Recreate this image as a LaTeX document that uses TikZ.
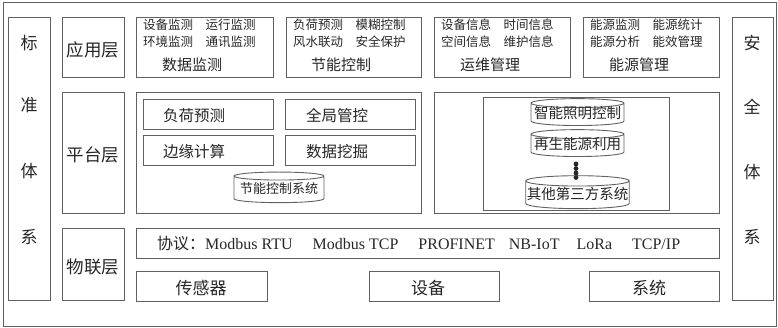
\documentclass[tikz,border=0pt]{standalone}
\usepackage{fontspec}
\setmainfont{Noto Sans CJK SC}
\newfontfamily\latfont{Liberation Serif}
\usetikzlibrary{shapes.geometric}

\newcommand\szcol{\fontsize{17}{20}\selectfont}
\newcommand\szlay{\fontsize{17.5}{20}\selectfont}
\newcommand\szsub{\fontsize{12.5}{14}\selectfont}
\newcommand\sztit{\fontsize{15}{17}\selectfont}
\newcommand\szplt{\fontsize{15.5}{17}\selectfont}

\tikzset{
  line/.style={draw=black!62, line width=0.9pt},
  blk/.style={line, anchor=north west, inner sep=0pt},
  lbl/.style={inner sep=0pt, text=black!85},
  db/.style={line, cylinder, shape border rotate=90, aspect=0.1,
    inner xsep=1pt, inner ysep=0.5pt, text height=10.5pt, text depth=2.5pt,
    text=black!85}
}

\begin{document}
\begin{tikzpicture}[x=1pt,y=-1pt]
  \useasboundingbox (0,0) rectangle (778,328);
  % frame and side columns
  \node[blk, minimum width=773, minimum height=324] (outer) at (3,2) {};
  \node[blk, minimum width=42, minimum height=283] (std) at (8,17) {};
  \node[blk, minimum width=41, minimum height=283] (sec) at (732,17) {};
  \node[lbl] (std1) at (29,43) {\szcol 标};
  \node[lbl] (std2) at (29,105) {\szcol 准};
  \node[lbl] (std3) at (29,171) {\szcol 体};
  \node[lbl] (std4) at (29,237) {\szcol 系};
  \node[lbl] (sec1) at (752,43) {\szcol 安};
  \node[lbl] (sec2) at (752,107) {\szcol 全};
  \node[lbl] (sec3) at (752,172) {\szcol 体};
  \node[lbl] (sec4) at (752,237) {\szcol 系};

  % application layer
  \node[blk, minimum width=62, minimum height=60] (app) at (62,17) {};
  \node[lbl] (appt) at (93,50) {\szlay 应用层};
  \node[blk, minimum width=137, minimum height=60] (mon) at (136,17) {};
  \node[blk, minimum width=135, minimum height=60] (ctl) at (286,17) {};
  \node[blk, minimum width=136, minimum height=60] (ops) at (434,17) {};
  \node[blk, minimum width=136, minimum height=60] (eng) at (583,17) {};
  \node[lbl, anchor=west] (mon1) at (143,25) {\szsub 设备监测\quad 运行监测};
  \node[lbl, anchor=west] (mon2) at (143,42) {\szsub 环境监测\quad 通讯监测};
  \node[lbl] (mont) at (192,65) {\sztit 数据监测};
  \node[lbl, anchor=west] (ctl1) at (293,25) {\szsub 负荷预测\quad 模糊控制};
  \node[lbl, anchor=west] (ctl2) at (293,42) {\szsub 风水联动\quad 安全保护};
  \node[lbl] (ctlt) at (341,65) {\sztit 节能控制};
  \node[lbl, anchor=west] (ops1) at (441,25) {\szsub 设备信息\quad 时间信息};
  \node[lbl, anchor=west] (ops2) at (441,42) {\szsub 空间信息\quad 维护信息};
  \node[lbl] (opst) at (490,65) {\sztit 运维管理};
  \node[lbl, anchor=west] (eng1) at (590,25) {\szsub 能源监测\quad 能源统计};
  \node[lbl, anchor=west] (eng2) at (590,42) {\szsub 能源分析\quad 能效管理};
  \node[lbl] (engt) at (639,65) {\sztit 能源管理};

  % platform layer
  \node[blk, minimum width=62, minimum height=121] (plt) at (62,92) {};
  \node[lbl] (pltt) at (93,155) {\szlay 平台层};
  \node[blk, minimum width=285, minimum height=121] (pltl) at (136,92) {};
  \node[blk, minimum width=130, minimum height=30] (load) at (143,99) {};
  \node[blk, minimum width=130, minimum height=30] (glob) at (285,99) {};
  \node[blk, minimum width=130, minimum height=30] (edge) at (143,135) {};
  \node[blk, minimum width=130, minimum height=30] (mine) at (285,135) {};
  \node[lbl] (loadt) at (194,116) {\szplt 负荷预测};
  \node[lbl] (globt) at (337,116) {\szplt 全局管控};
  \node[lbl] (edget) at (194,152) {\szplt 边缘计算};
  \node[lbl] (minet) at (337,152) {\szplt 数据挖掘};
  \node[db, minimum width=90, inner ysep=3pt] (esys) at (279,190)
    {\fontsize{13}{15}\selectfont 节能控制系统};
  \node[blk, minimum width=285, minimum height=121] (pltr) at (434,92) {};
  \node[blk, minimum width=186, minimum height=113] (subs) at (483,97) {};
  \node[db, minimum width=93] (light) at (577.5,115)
    {\fontsize{14.5}{16}\selectfont 智能照明控制};
  \node[db, minimum width=93] (renew) at (577.5,146)
    {\fontsize{14.5}{16}\selectfont 再生能源利用};
  \node[db, minimum width=93, inner ysep=2.5pt] (third) at (577.5,195.5)
    {\fontsize{14.5}{16}\selectfont 其他第三方系统};
  \foreach \y in {164,168.5,173,177.5}
    \fill[black!85] (576,\y) circle (2.4);

  % IoT layer
  \node[blk, minimum width=62, minimum height=72] (iot) at (62,228) {};
  \node[lbl] (iott) at (93,267) {\szlay 物联层};
  \node[blk, minimum width=583, minimum height=30] (proto) at (136,228) {};
  \node[lbl, anchor=west] (protot) at (157,243) {\fontsize{16}{18}\selectfont
    协议：{\latfont Modbus RTU\hspace{20pt}Modbus TCP\hspace{20pt}PROFINET\hspace{14pt}NB-IoT\hspace{17pt}LoRa\hspace{20pt}TCP/IP}};
  \node[blk, minimum width=131, minimum height=30] (sens) at (136,271) {};
  \node[blk, minimum width=130, minimum height=30] (dev) at (369,271) {};
  \node[blk, minimum width=130, minimum height=30] (sysb) at (589,271) {};
  \node[lbl] (senst) at (201,288) {\fontsize{17}{19}\selectfont 传感器};
  \node[lbl] (devt) at (428,288) {\fontsize{17}{19}\selectfont 设备};
  \node[lbl] (sysbt) at (649,288) {\fontsize{17}{19}\selectfont 系统};
\end{tikzpicture}
\end{document}
